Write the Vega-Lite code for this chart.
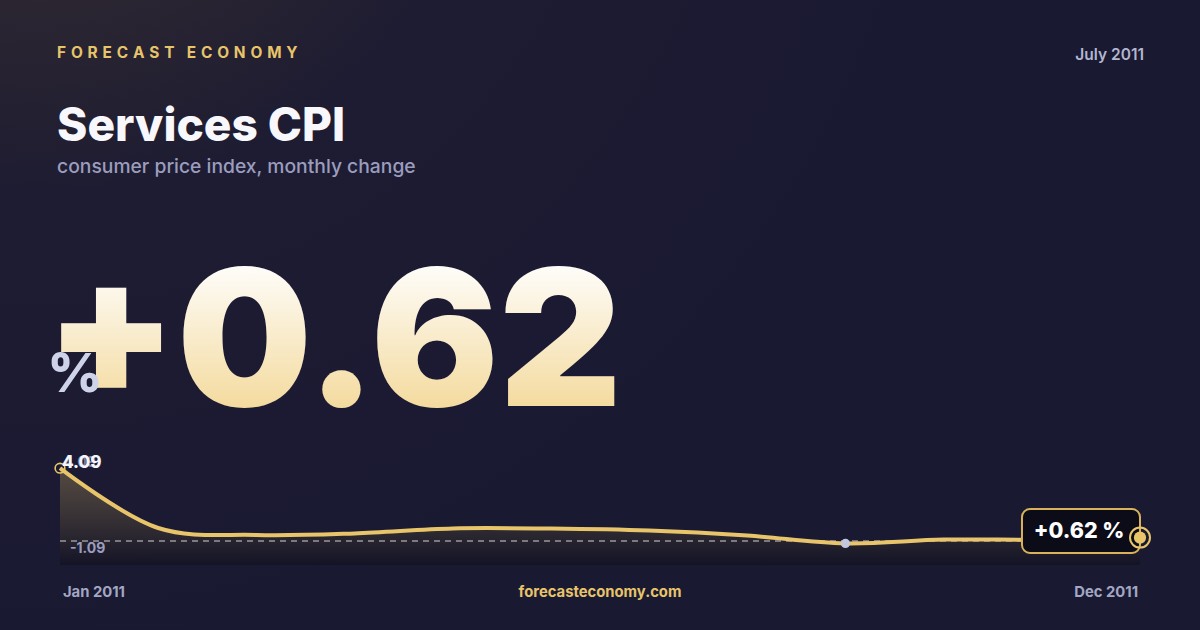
{
  "$schema": "https://vega.github.io/schema/vega-lite/v6.json",
  "width": 1200,
  "height": 630,
  "autosize": {"type": "fit", "contains": "padding"},
  "padding": 0,
  "background": "#181830",
  "config": {
    "view": {
      "stroke": null,
      "fill": {
        "gradient": "radial",
        "x1": 0.03, "y1": 0.0, "r1": 0,
        "x2": 0.03, "y2": 0.0, "r2": 0.8,
        "stops": [
          {"offset": 0, "color": "#3d3430"},
          {"offset": 0.5, "color": "#1e1c32"},
          {"offset": 1, "color": "#191932"}
        ]
      }
    },
    "axis": {"disable": true},
    "text": {"font": "Inter"}
  },
  "datasets": {
    "series": [
      {"month": 1, "name": "Jan 2011", "value": 4.09},
      {"month": 2, "name": "Feb 2011", "value": 1.1},
      {"month": 3, "name": "Mar 2011", "value": 0.75},
      {"month": 4, "name": "Apr 2011", "value": 0.83},
      {"month": 5, "name": "May 2011", "value": 1.08},
      {"month": 6, "name": "Jun 2011", "value": 1.07},
      {"month": 7, "name": "Jul 2011", "value": 0.97},
      {"month": 8, "name": "Aug 2011", "value": 0.72},
      {"month": 9, "name": "Sep 2011", "value": 0.33},
      {"month": 10, "name": "Oct 2011", "value": 0.52},
      {"month": 11, "name": "Nov 2011", "value": 0.52},
      {"month": 12, "name": "Dec 2011", "value": 0.62}
    ]
  },
  "layer": [
    {
      "data": {"name": "series"},
      "mark": {
        "type": "area",
        "interpolate": "catmull-rom",
        "color": {
          "gradient": "linear",
          "x1": 0, "y1": 0, "x2": 0, "y2": 1,
          "stops": [
            {"offset": 0, "color": "rgba(232,196,106,0.28)"},
            {"offset": 1, "color": "rgba(8,8,16,0.35)"}
          ]
        }
      },
      "encoding": {
        "x": {"field": "month", "type": "quantitative", "scale": {"domain": [0.38889, 12.61111], "nice": false, "zero": false}},
        "y": {"field": "value", "type": "quantitative", "scale": {"domain": [-4, 27.5], "nice": false, "zero": false}},
        "y2": {"datum": -0.75}
      }
    },
    {
      "data": {"values": [{"ref": "mid"}]},
      "mark": {"type": "rule", "color": "#f0f0f6", "strokeWidth": 1.2, "strokeDash": [6, 5], "opacity": 0.85},
      "encoding": {
        "x": {"datum": 1},
        "x2": {"datum": 12},
        "y": {"datum": 0.45}
      }
    },
    {
      "data": {"name": "series"},
      "mark": {"type": "line", "interpolate": "catmull-rom", "color": "#e8c46a", "strokeWidth": 4},
      "encoding": {
        "x": {"field": "month", "type": "quantitative"},
        "y": {"field": "value", "type": "quantitative"}
      }
    },
    {
      "data": {"name": "series"},
      "transform": [{"filter": "datum.month == 1"}],
      "mark": {"type": "point", "filled": false, "color": "#e8c46a", "strokeWidth": 1.6, "size": 95, "opacity": 1},
      "encoding": {
        "x": {"field": "month", "type": "quantitative"},
        "y": {"field": "value", "type": "quantitative"}
      }
    },
    {
      "data": {"name": "series"},
      "transform": [{"filter": "datum.month == 9"}],
      "mark": {"type": "circle", "color": "#c3c6df", "size": 85, "opacity": 1},
      "encoding": {
        "x": {"field": "month", "type": "quantitative"},
        "y": {"field": "value", "type": "quantitative"}
      }
    },
    {
      "data": {"values": [{"box": "+0.62 %"}]},
      "mark": {"type": "rect", "fill": "#0c0c18", "stroke": "#d9b35a", "strokeWidth": 2, "cornerRadius": 8},
      "encoding": {
        "x": {"datum": 10.798},
        "x2": {"datum": 12},
        "y": {"datum": 2.05},
        "y2": {"datum": -0.15}
      }
    },
    {
      "data": {"values": [{"box": "+0.62 %"}]},
      "mark": {"type": "text", "color": "#ffffff", "fontSize": 21.5, "fontWeight": 800, "align": "center", "baseline": "alphabetic"},
      "encoding": {
        "x": {"datum": 11.38},
        "y": {"datum": 0.58},
        "text": {"field": "box"}
      }
    },
    {
      "data": {"name": "series"},
      "transform": [{"filter": "datum.month == 12"}],
      "mark": {"type": "point", "filled": false, "color": "#e8c46a", "strokeWidth": 2, "size": 400, "opacity": 1},
      "encoding": {
        "x": {"field": "month", "type": "quantitative"},
        "y": {"field": "value", "type": "quantitative"}
      }
    },
    {
      "data": {"name": "series"},
      "transform": [{"filter": "datum.month == 12"}],
      "mark": {"type": "circle", "color": "#e8c46a", "size": 150, "opacity": 1},
      "encoding": {
        "x": {"field": "month", "type": "quantitative"},
        "y": {"field": "value", "type": "quantitative"}
      }
    },
    {
      "data": {"values": [{"label": "4.09"}]},
      "mark": {"type": "text", "color": "#8f93b8", "fontSize": 14, "fontWeight": 700, "align": "left", "baseline": "alphabetic", "opacity": 0.8},
      "encoding": {"x": {"datum": 1.04}, "y": {"datum": 4.15}, "text": {"field": "label"}}
    },
    {
      "data": {"values": [{"label": "4.09"}]},
      "mark": {"type": "text", "color": "#f4f4fa", "fontSize": 17, "fontWeight": 800, "align": "left", "baseline": "alphabetic"},
      "encoding": {"x": {"datum": 1.02}, "y": {"datum": 4.1}, "text": {"field": "label"}}
    },
    {
      "data": {"values": [{"label": "-1.09"}]},
      "mark": {"type": "text", "color": "#9a9dc0", "fontSize": 14, "fontWeight": 700, "align": "left", "baseline": "alphabetic"},
      "encoding": {"x": {"datum": 1.102}, "y": {"datum": -0.15}, "text": {"field": "label"}}
    },
    {
      "data": {"values": [{"label": "F \u200AO \u200AR \u200AE \u200AC \u200AA \u200AS \u200AT\u00A0\u00A0\u00A0\u200AE \u200AC \u200AO \u200AN \u200AO \u200AM \u200AY"}]},
      "mark": {"type": "text", "color": "#e8c46a", "fontSize": 15.4, "fontWeight": 700, "align": "left", "baseline": "alphabetic"},
      "encoding": {"x": {"datum": 0.9694}, "y": {"datum": 24.6}, "text": {"field": "label"}}
    },
    {
      "data": {"values": [{"label": "July 2011"}]},
      "mark": {"type": "text", "color": "#b3b6cf", "fontSize": 15.5, "fontWeight": 600, "align": "right", "baseline": "alphabetic"},
      "encoding": {"x": {"datum": 12.041}, "y": {"datum": 24.5}, "text": {"field": "label"}}
    },
    {
      "data": {"values": [{"label": "Services CPI"}]},
      "mark": {"type": "text", "color": "#f7f7fc", "fontSize": 46, "fontWeight": 800, "align": "left", "baseline": "alphabetic"},
      "encoding": {"x": {"datum": 0.97}, "y": {"datum": 20.45}, "text": {"field": "label"}}
    },
    {
      "data": {"values": [{"label": "consumer price index, monthly change"}]},
      "mark": {"type": "text", "color": "#9b9dbf", "fontSize": 19.3, "fontWeight": 500, "align": "left", "baseline": "alphabetic"},
      "encoding": {"x": {"datum": 0.97}, "y": {"datum": 18.85}, "text": {"field": "label"}}
    },
    {
      "data": {"values": [{"label": "+0.62"}]},
      "mark": {
        "type": "text",
        "fontSize": 190,
        "fontWeight": 900,
        "align": "left",
        "baseline": "alphabetic",
        "fill": {
          "gradient": "linear",
          "x1": 0, "y1": 0, "x2": 0, "y2": 1,
          "stops": [
            {"offset": 0.15, "color": "#ffffff"},
            {"offset": 0.85, "color": "#f3d898"}
          ]
        }
      },
      "encoding": {"x": {"datum": 0.85}, "y": {"datum": 7.2}, "text": {"field": "label"}}
    },
    {
      "data": {"values": [{"label": "%"}]},
      "mark": {"type": "text", "color": "#cfd3ea", "fontSize": 54, "fontWeight": 800, "align": "left", "baseline": "alphabetic"},
      "encoding": {"x": {"datum": 0.87}, "y": {"datum": 7.9}, "text": {"field": "label"}}
    },
    {
      "data": {"values": [{"label": "Jan 2011"}]},
      "mark": {"type": "text", "color": "#a3a7c4", "fontSize": 14.8, "fontWeight": 700, "align": "left", "baseline": "alphabetic"},
      "encoding": {"x": {"datum": 1.03}, "y": {"datum": -2.35}, "text": {"field": "label"}}
    },
    {
      "data": {"values": [{"label": "forecasteconomy.com"}]},
      "mark": {"type": "text", "color": "#e8c46a", "fontSize": 14.8, "fontWeight": 700, "align": "center", "baseline": "alphabetic"},
      "encoding": {"x": {"datum": 6.5}, "y": {"datum": -2.35}, "text": {"field": "label"}}
    },
    {
      "data": {"values": [{"label": "Dec 2011"}]},
      "mark": {"type": "text", "color": "#a3a7c4", "fontSize": 14.8, "fontWeight": 700, "align": "right", "baseline": "alphabetic"},
      "encoding": {"x": {"datum": 11.98}, "y": {"datum": -2.35}, "text": {"field": "label"}}
    }
  ]
}
